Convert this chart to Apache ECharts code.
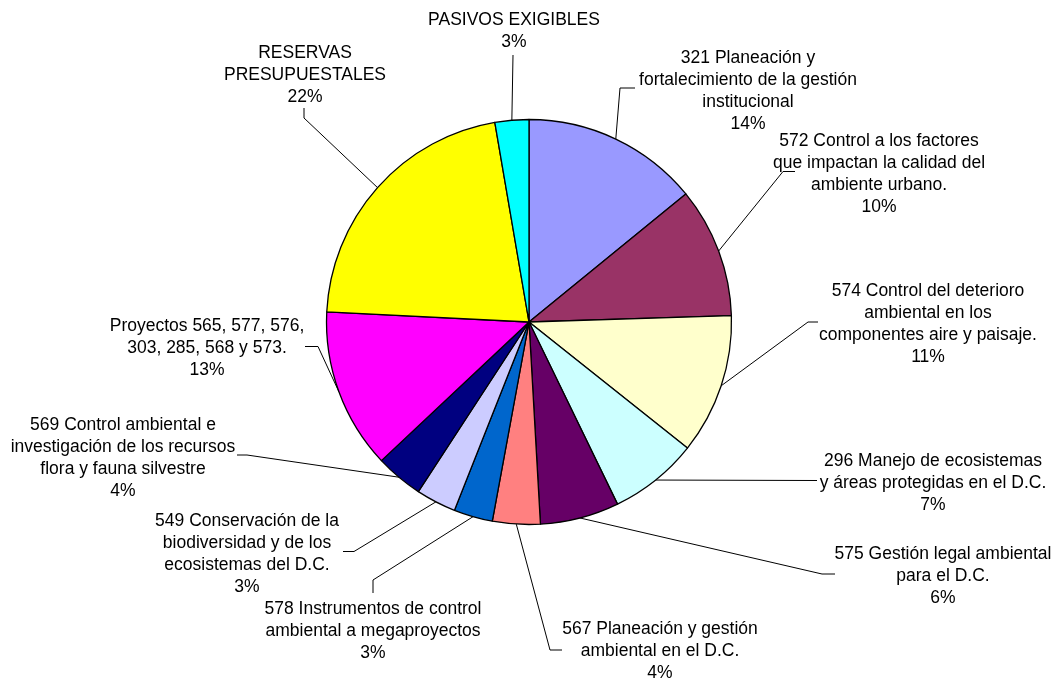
<!DOCTYPE html>
<html>
<head>
<meta charset="utf-8">
<script src="https://cdn.jsdelivr.net/npm/echarts@6/dist/echarts.min.js"></script>
<style>
  html, body { margin: 0; padding: 0; background: #fff; }
  #chart { width: 1060px; height: 679px; }
</style>
</head>
<body>
<div id="chart"></div>
<script>
// categories, clockwise from 12 o'clock
const names = [
  '321 Planeación y\nfortalecimiento de la gestión\ninstitucional',
  '572 Control a los factores\nque impactan la calidad del\nambiente urbano.',
  '574 Control del deterioro\nambiental en los\ncomponentes aire y paisaje.',
  '296 Manejo de ecosistemas\ny áreas protegidas en el D.C.',
  '575 Gestión legal ambiental\npara el D.C.',
  '567 Planeación y gestión\nambiental en el D.C.',
  '578 Instrumentos de control\nambiental a megaproyectos',
  '549 Conservación de la\nbiodiversidad y de los\necosistemas del D.C.',
  '569 Control ambiental e\ninvestigación de los recursos\nflora y fauna silvestre',
  'Proyectos 565, 577, 576,\n303, 285, 568 y 573.',
  'RESERVAS\nPRESUPUESTALES',
  'PASIVOS EXIGIBLES'
];
// share of budget (%)
const values = [14.1, 10.4, 11.2, 7.1, 6.3, 3.8, 3.1, 3.2, 3.8, 12.8, 21.5, 2.7];
const colors = ['#9999FF', '#993366', '#FFFFCC', '#CCFFFF', '#660066', '#FF8080',
                '#0066CC', '#CCCCFF', '#000080', '#FF00FF', '#FFFF00', '#00FFFF'];

// label placement (block centre) and leader bends, as in the original layout
const labelPos = [
  [748, 91], [879, 174], [928, 324.5], [933, 483.5], [943, 576.5], [660, 651],
  [373, 631.5], [247, 554], [123, 458.5], [207, 348], [305, 75.5], [514, 31.5]
];
const leaderBends = [
  [[620, 88], [635, 88]],
  [[783, 171.5], [795, 171.5]],
  [[808, 322], [818, 322]],
  [[817, 480.5]],
  [[822, 574], [835, 574]],
  [[550, 650], [562, 650]],
  [[373, 580], [373, 593]],
  [[354, 551.5], [343, 551.5]],
  [[247, 455], [237, 455]],
  [[318, 346.5], [305, 346.5]],
  [[304, 118], [304, 108]],
  [[513, 55]]
];

const chart = echarts.init(document.getElementById('chart'));
chart.setOption({
  backgroundColor: '#fff',
  animation: false,
  series: [{
    type: 'pie',
    center: [529, 322],
    radius: 202.5,
    startAngle: 90,
    clockwise: true,
    avoidLabelOverlap: false,
    percentPrecision: 0,
    data: names.map((n, i) => ({
      name: n,
      value: values[i],
      itemStyle: { color: colors[i] }
    })),
    itemStyle: { borderColor: '#000', borderWidth: 1.3 },
    label: {
      show: true,
      position: 'outside',
      formatter: '{b}\n{d}%',
      fontFamily: 'Liberation Sans, Arial, sans-serif',
      fontSize: 17.5,
      lineHeight: 22,
      color: '#000',
      align: 'center'
    },
    labelLine: {
      show: true,
      smooth: false,
      lineStyle: { color: '#000', width: 1 }
    },
    labelLayout: function (params) {
      const i = params.dataIndex;
      const start = params.labelLinePoints ? params.labelLinePoints[0] : null;
      const out = {
        x: labelPos[i][0],
        y: labelPos[i][1],
        align: 'center',
        verticalAlign: 'middle'
      };
      if (start) {
        out.labelLinePoints = [start].concat(leaderBends[i]);
      }
      return out;
    },
    emphasis: { disabled: true }
  }]
});
</script>
</body>
</html>
